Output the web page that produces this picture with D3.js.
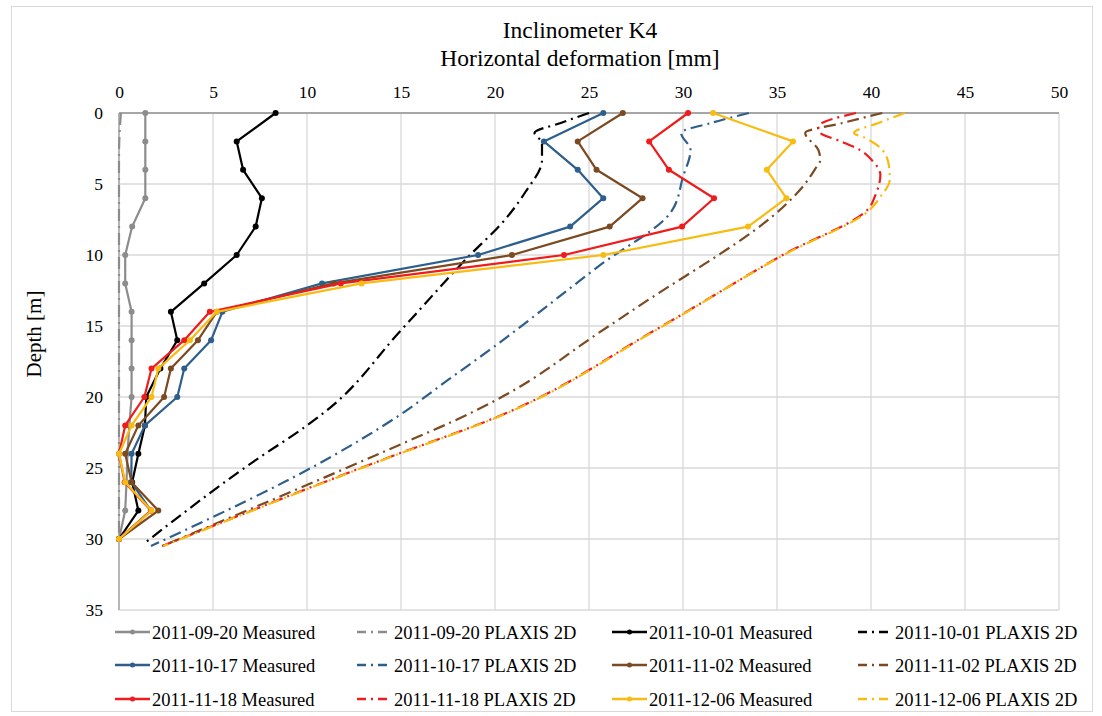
<!DOCTYPE html>
<html><head><meta charset="utf-8">
<script src="https://cdn.jsdelivr.net/npm/d3@7"></script>
<style>body{margin:0;background:#fff;} text{font-family:"Liberation Serif","Times New Roman",serif;fill:#000;}</style>
</head><body>
<svg id="chart" width="1102" height="716"></svg>
<script>
// ---- data ----
const seriesNames = ["2011-09-20","2011-10-01","2011-10-17","2011-11-02","2011-11-18","2011-12-06"];
const seriesColors = ["#8c8c8c","#000000","#2e5f8c","#7b4a22","#ee1c1c","#f7bb12"];
const xTicks = [0,5,10,15,20,25,30,35,40,45,50];
const yTicks = [0,5,10,15,20,25,30,35];

const measuredDepth = [0,2,4,6,8,10,12,14,16,18,20,22,24,26,28,30];
const measured_0920 = [1.4,1.4,1.4,1.4,0.7,0.33,0.33,0.67,0.67,0.67,0.67,0.55,0.45,0.4,0.33,0];
const measured_1001 = [8.33,6.26,6.6,7.6,7.27,6.26,4.53,2.76,3.1,2.2,1.45,1.38,1.03,0.7,1.03,0];
const measured_1017 = [25.76,22.6,24.4,25.76,24.0,19.1,10.8,5.5,4.9,3.47,3.1,1.38,0.67,0.65,1.7,0];
const measured_1102 = [26.8,24.4,25.4,27.85,26.1,20.9,11.4,5.2,4.2,2.76,2.4,1.03,0.33,0.67,2.09,0];
const measured_1118 = [30.27,28.2,29.25,31.65,29.95,23.67,11.8,4.83,3.47,1.73,1.35,0.33,0,0.3,1.7,0];
const measured_1206 = [31.6,35.85,34.46,35.5,33.46,25.76,12.9,5.2,3.77,2.09,1.73,0.67,0,0.33,1.73,0];

const plaxis_0920_depth = [0,1.5,3,10,20,30];
const plaxis_0920_x     = [0.1,0.03,0,0,0,0];
const plaxis_1001_depth = [0,0.7,1.4,2.1,3.3,5.6,7.4,10.3,15.3,21.0,22.0,24.6,30.3];
const plaxis_1001_x     = [25.0,23.5,22.1,22.5,22.5,21.6,20.6,18.45,15.0,11.0,10.0,7.1,1.35];
const plaxis_1017_depth = [0,0.7,1.4,2.6,4.5,6.9,10.8,16.7,18.8,21.3,24.2,30.5];
const plaxis_1017_x     = [33.5,31.5,29.9,30.4,30.0,29.4,25.5,19.7,17.5,14.9,11.3,1.7];
const plaxis_1102_depth = [0,0.7,1.4,2.6,3.3,4.0,5.3,6.4,13.6,15.5,19.9,21.0,23.9,30.5];
const plaxis_1102_x     = [40.6,38.5,36.5,37.2,37.3,37.0,36.3,35.5,27.65,25.5,20.5,18.9,14.0,2.3];
const plaxis_1118_depth = [0,0.95,1.4,2.0,2.6,3.4,4.35,5.9,6.6,10.0,15.3,21.3,24.5,30.5];
const plaxis_1118_x     = [39.2,37.2,37.3,38.4,39.4,40.1,40.5,40.2,39.95,35.3,28.5,20.3,13.85,2.3];
const plaxis_1206_depth = [0,0.7,1.4,1.76,2.6,3.76,4.7,5.9,6.8,10.0,15.3,21.3,24.5,30.5];
const plaxis_1206_x     = [41.8,40.4,39.1,39.7,40.6,40.96,41.0,40.5,39.95,35.35,28.55,20.35,13.9,2.35];

const measuredList = [measured_0920,measured_1001,measured_1017,measured_1102,measured_1118,measured_1206];
const plaxisList = [
  [plaxis_0920_x,plaxis_0920_depth],[plaxis_1001_x,plaxis_1001_depth],[plaxis_1017_x,plaxis_1017_depth],
  [plaxis_1102_x,plaxis_1102_depth],[plaxis_1118_x,plaxis_1118_depth],[plaxis_1206_x,plaxis_1206_depth]];

// ---- layout ----
const svg = d3.select("#chart");
const L = 119, R = 1059, T = 113, B = 610;
const x = d3.scaleLinear().domain([0,50]).range([L,R]);
const y = d3.scaleLinear().domain([0,35]).range([T,B]);

svg.append("rect").attr("x",11.5).attr("y",6.5).attr("width",1081).attr("height",705)
  .attr("fill","#fff").attr("stroke","#d9d9d9");

// grid
svg.append("g").selectAll("line").data(xTicks).join("line")
  .attr("x1",d=>x(d)).attr("x2",d=>x(d)).attr("y1",T).attr("y2",B)
  .attr("stroke","#d9d9d9").attr("stroke-width",1.3);
svg.append("g").selectAll("line").data(yTicks).join("line")
  .attr("x1",L).attr("x2",R).attr("y1",d=>y(d)).attr("y2",d=>y(d))
  .attr("stroke","#d9d9d9").attr("stroke-width",1.3);
// axes lines
svg.append("line").attr("x1",L).attr("x2",R).attr("y1",T).attr("y2",T).attr("stroke","#a6a6a6").attr("stroke-width",1.8);
svg.append("line").attr("x1",L).attr("x2",L).attr("y1",T).attr("y2",B).attr("stroke","#a6a6a6").attr("stroke-width",1.5);

// axis labels via d3 axes
const xAxis = svg.append("g").attr("transform",`translate(0,${T})`)
  .call(d3.axisTop(x).tickValues(xTicks).tickSize(0).tickPadding(15));
xAxis.select(".domain").remove();
xAxis.selectAll("text").attr("font-size",17.5).attr("font-family","Liberation Serif");
const yAxis = svg.append("g").attr("transform",`translate(${L},0)`)
  .call(d3.axisLeft(y).tickValues(yTicks).tickSize(0).tickPadding(16));
yAxis.select(".domain").remove();
yAxis.selectAll("text").attr("font-size",17.5).attr("font-family","Liberation Serif");

// titles
svg.append("text").attr("x",580).attr("y",38).attr("text-anchor","middle").attr("font-size",23.5).text("Inclinometer K4");
svg.append("text").attr("x",580).attr("y",66).attr("text-anchor","middle").attr("font-size",23.5).text("Horizontal deformation [mm]");
svg.append("text").attr("transform","translate(41,334) rotate(-90)").attr("text-anchor","middle").attr("font-size",21).text("Depth [m]");

// series
const line = d3.line().x(d=>x(d[0])).y(d=>y(d[1]));
const dash = "12,5,2,5";
const plot = svg.append("g");
seriesNames.forEach((name,i)=>{
  const mpts = measuredList[i].map((v,k)=>[v,measuredDepth[k]]);
  plot.append("path").datum(mpts).attr("d",line).attr("fill","none")
    .attr("stroke",seriesColors[i]).attr("stroke-width",2.2).attr("stroke-linejoin","round");
  plot.append("g").selectAll("circle").data(mpts).join("circle")
    .attr("cx",d=>x(d[0])).attr("cy",d=>y(d[1])).attr("r",3).attr("fill",seriesColors[i]);
  const [px,pd] = plaxisList[i];
  const ppts = px.map((v,k)=>[v,pd[k]]);
  plot.append("path").datum(ppts).attr("d",d3.line().x(d=>x(d[0])).y(d=>y(d[1])).curve(d3.curveMonotoneY)).attr("fill","none")
    .attr("stroke",seriesColors[i]).attr("stroke-width",2.2).attr("stroke-dasharray",dash);
});

// legend
const legCols = [115,357,612,858];
const legRows = [632,665,699];
const legendItems = [];
seriesNames.forEach((n,i)=>{
  legendItems.push({label:n+" Measured", color:seriesColors[i], dashed:false});
  legendItems.push({label:n+" PLAXIS 2D", color:seriesColors[i], dashed:true});
});
const leg = svg.append("g");
legendItems.forEach((it,k)=>{
  const cx = legCols[k%4], cy = legRows[Math.floor(k/4)];
  const g = leg.append("g").attr("transform",`translate(${cx},${cy})`);
  g.append("line").attr("x1",0).attr("x2",35).attr("y1",0).attr("y2",0)
    .attr("stroke",it.color).attr("stroke-width",2.4)
    .attr("stroke-dasharray",it.dashed?"9,5,2,5":null);
  if(!it.dashed) g.append("circle").attr("cx",17.5).attr("cy",0).attr("r",2.5).attr("fill",it.color);
  g.append("text").attr("x",37).attr("y",6.5).attr("font-size",18.5).text(it.label);
});
</script>
</body></html>
